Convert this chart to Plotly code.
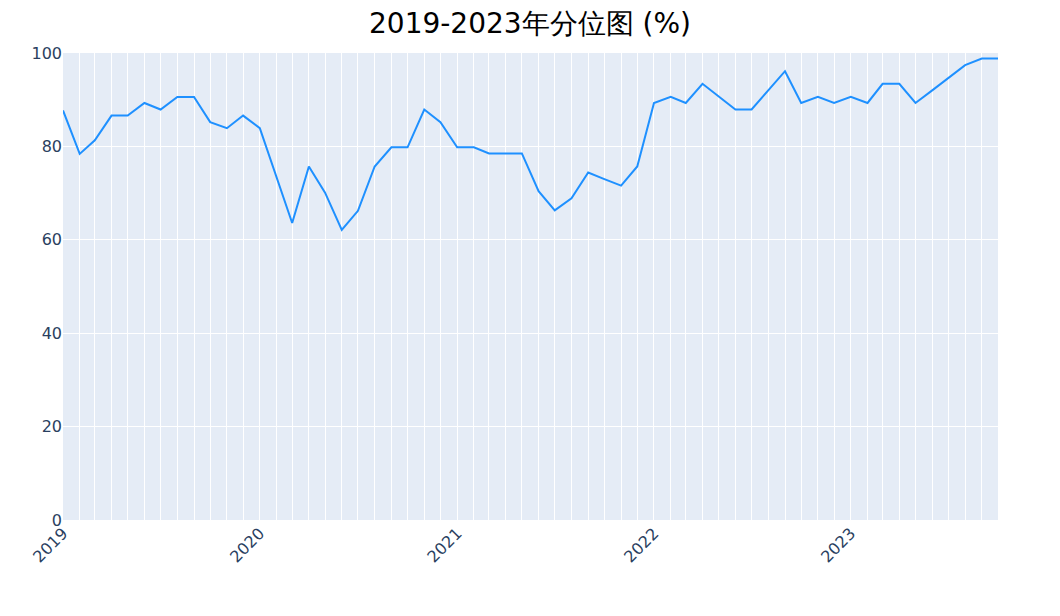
import pandas as pd
import plotly.graph_objects as go

dates = pd.date_range("2019-01-01", "2023-10-01", freq="MS")
values = [
    87.7, 78.4, 81.3, 86.6, 86.6, 89.3, 87.9, 90.6, 90.6, 85.2, 83.9, 86.6,
    83.9, 73.2, 63.6, 75.7, 70.1, 62.1, 66.2, 75.7, 79.8, 79.8, 87.9, 85.2,
    79.8, 79.8, 78.5, 78.5, 78.5, 70.4, 66.3, 68.9, 74.4, 73.0, 71.6, 75.7,
    89.3, 90.6, 89.3, 93.4, 90.6, 87.9, 87.9, 92.0, 96.1, 89.3, 90.6, 89.3,
    90.6, 89.3, 93.4, 93.4, 89.3, 92.0, 94.7, 97.4, 98.8, 98.8,
]
y_ticks = [0, 20, 40, 60, 80, 100]

W, H = 1044, 600

fig = go.Figure()
fig.add_trace(go.Scatter(x=dates, y=values, mode="lines",
                         line=dict(color="#1E90FF", width=2)))

fig.update_layout(
    width=W, height=H,
    title=dict(text="2019-2023年分位图 (%)", x=0.5, xanchor="center",
               y=1 - 15 / H, yref="container", yanchor="middle",
               font=dict(size=28, color="black")),
    margin=dict(l=55, r=54, t=45, b=88, autoexpand=False),
    plot_bgcolor="#E5ECF6",
    paper_bgcolor="white",
    showlegend=False,
    font=dict(family="DejaVu Sans, Verdana, sans-serif", size=16, color="#2a3f5f"),
    xaxis=dict(
        range=[dates[0], dates[-1]],
        dtick="M12", tick0="2019-01-01", tickformat="%Y", tickangle=-45,
        showgrid=True, gridcolor="white", zeroline=False,
        minor=dict(dtick="M1", showgrid=True, gridcolor="white"),
        automargin=False,
    ),
    yaxis=dict(range=[0, 100], tickvals=y_ticks, showgrid=True,
               gridcolor="white", zeroline=False, automargin=False),
)

fig.write_html("out.html")
